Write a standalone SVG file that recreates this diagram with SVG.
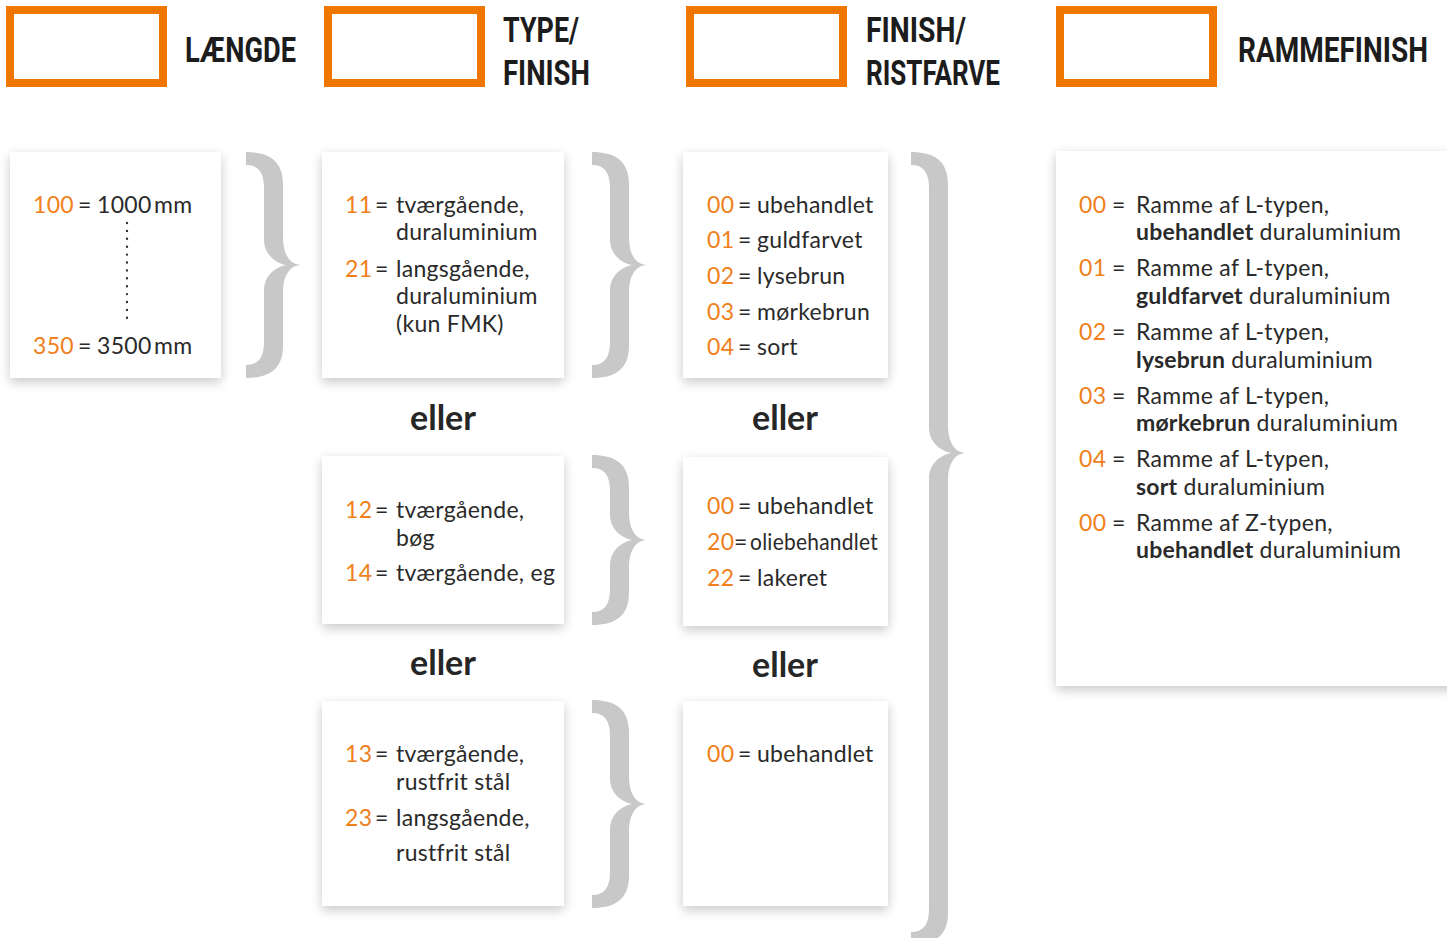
<svg xmlns="http://www.w3.org/2000/svg" width="1447" height="938" viewBox="0 0 1447 938">
<defs>
<filter id="sh" x="-20%" y="-20%" width="140%" height="140%">
<feGaussianBlur in="SourceAlpha" stdDeviation="6"/>
<feOffset dx="0" dy="4" result="b"/>
<feComponentTransfer><feFuncA type="linear" slope="0.22"/></feComponentTransfer>
<feMerge><feMergeNode/><feMergeNode in="SourceGraphic"/></feMerge>
</filter>
<style>
.hb{fill:none;stroke:#ef7600;stroke-width:8}
.ht{font-family:"Liberation Sans Narrow","Roboto","DejaVu Sans Condensed",sans-serif;font-weight:bold;font-size:35px;fill:#1c1c1c}
.card{fill:#fff;filter:url(#sh)}
.t{font-family:Lato,"Open Sans",sans-serif;font-size:23px;font-weight:400;letter-spacing:0.3px;fill:#2a2a2a}
.n{fill:#f07f1c}
.b{font-weight:bold;letter-spacing:0.2px}
.el{font-family:Lato,"Open Sans",sans-serif;font-size:34px;font-weight:bold;fill:#262626;text-anchor:middle}
.br{fill:#c8c8c8}
</style>
</defs>
<rect width="1447" height="938" fill="#fff"/>

<g id="header-laengde">
<rect class="hb" x="10" y="10" width="153" height="73"/>
<text class="ht" x="185" y="62" textLength="111" lengthAdjust="spacingAndGlyphs">LÆNGDE</text>
</g>
<g id="header-type">
<rect class="hb" x="328" y="10" width="153" height="73"/>
<text class="ht" x="503" y="42" textLength="76" lengthAdjust="spacingAndGlyphs">TYPE/</text>
<text class="ht" x="503" y="85" textLength="87" lengthAdjust="spacingAndGlyphs">FINISH</text>
</g>
<g id="header-finish">
<rect class="hb" x="690" y="10" width="153" height="73"/>
<text class="ht" x="866" y="42" textLength="100" lengthAdjust="spacingAndGlyphs">FINISH/</text>
<text class="ht" x="866" y="85" textLength="134" lengthAdjust="spacingAndGlyphs">RISTFARVE</text>
</g>
<g id="header-ramme">
<rect class="hb" x="1060" y="10" width="153" height="73"/>
<text class="ht" transform="translate(1238,62) scale(0.8,1)" x="0" y="0" textLength="237.5" lengthAdjust="spacingAndGlyphs">RAMMEFINISH</text>
</g>

<g id="connectors">
<path class="br" d="M246,152 C268,152 283,160 283,184 L283,237 C283,255 290,265 302,265 C290,265 283,275 283,293 L283,346 C283,370 268,378 246,378 L246,365 C258,365 264,358 264,342 L264,291 C264,275 276,267 286,265 C276,263 264,255 264,239 L264,188 C264,172 258,165 246,165 Z"/>
<path class="br" d="M592,152 C614,152 629,160 629,184 L629,237 C629,255 636,265 648,265 C636,265 629,275 629,293 L629,346 C629,370 614,378 592,378 L592,365 C604,365 610,358 610,342 L610,291 C610,275 622,267 632,265 C622,263 610,255 610,239 L610,188 C610,172 604,165 592,165 Z"/>
<path class="br" d="M592,455 C614,455 629,463 629,487 L629,512 C629,530 636,540 648,540 C636,540 629,550 629,568 L629,593 C629,617 614,625 592,625 L592,612 C604,612 610,605 610,589 L610,566 C610,550 622,542 632,540 C622,538 610,530 610,514 L610,491 C610,475 604,468 592,468 Z"/>
<path class="br" d="M592,700 C614,700 629,708 629,732 L629,776 C629,794 636,804 648,804 C636,804 629,814 629,832 L629,876 C629,900 614,908 592,908 L592,895 C604,895 610,888 610,872 L610,830 C610,814 622,806 632,804 C622,802 610,794 610,778 L610,736 C610,720 604,713 592,713 Z"/>
<path class="br" d="M911,152 C933,152 948,160 948,184 L948,425 C948,443 955,453 967,453 C955,453 948,463 948,481 L948,913 C948,937 933,945 911,945 L911,932 C923,932 929,925 929,909 L929,479 C929,463 941,455 951,453 C941,451 929,443 929,427 L929,188 C929,172 923,165 911,165 Z"/>
</g>

<g id="card-laengde">
<rect class="card" x="10" y="152" width="211" height="226"/>
<text class="t" y="213"><tspan class="n" x="33">100</tspan><tspan x="78">=</tspan><tspan x="97">1000</tspan><tspan x="154">mm</tspan></text>
<line x1="127" y1="223" x2="127" y2="318" stroke="#333" stroke-width="2.4" stroke-linecap="round" stroke-dasharray="0 7.9"/>
<text class="t" y="354"><tspan class="n" x="33">350</tspan><tspan x="78">=</tspan><tspan x="97">3500</tspan><tspan x="154">mm</tspan></text>
</g>

<g id="card-type-1">
<rect class="card" x="322" y="152" width="242" height="226"/>
<text class="t" y="213"><tspan class="n" x="345">11</tspan><tspan x="375">=</tspan><tspan x="396">tværgående,</tspan></text>
<text class="t" x="396" y="240">duraluminium</text>
<text class="t" y="277"><tspan class="n" x="345">21</tspan><tspan x="375">=</tspan><tspan x="396">langsgående,</tspan></text>
<text class="t" x="396" y="304">duraluminium</text>
<text class="t" x="396" y="332">(kun FMK)</text>
</g>

<g id="card-finish-1">
<rect class="card" x="683" y="152" width="205" height="226"/>
<text class="t" y="213"><tspan class="n" x="707">00</tspan><tspan x="738">=</tspan><tspan x="757">ubehandlet</tspan></text>
<text class="t" y="248"><tspan class="n" x="707">01</tspan><tspan x="738">=</tspan><tspan x="757">guldfarvet</tspan></text>
<text class="t" y="284"><tspan class="n" x="707">02</tspan><tspan x="738">=</tspan><tspan x="757">lysebrun</tspan></text>
<text class="t" y="320"><tspan class="n" x="707">03</tspan><tspan x="738">=</tspan><tspan x="757">mørkebrun</tspan></text>
<text class="t" y="355"><tspan class="n" x="707">04</tspan><tspan x="738">=</tspan><tspan x="757">sort</tspan></text>
</g>

<g id="eller-1"><text class="el" x="443" y="430">eller</text></g>
<g id="eller-2"><text class="el" x="785" y="430">eller</text></g>

<g id="card-type-2">
<rect class="card" x="322" y="456" width="242" height="168"/>
<text class="t" y="518"><tspan class="n" x="345">12</tspan><tspan x="375">=</tspan><tspan x="396">tværgående,</tspan></text>
<text class="t" x="396" y="546">bøg</text>
<text class="t" y="581"><tspan class="n" x="345">14</tspan><tspan x="375">=</tspan><tspan x="396">tværgående, eg</tspan></text>
</g>

<g id="card-finish-2">
<rect class="card" x="683" y="457" width="205" height="169"/>
<text class="t" y="514"><tspan class="n" x="707">00</tspan><tspan x="738">=</tspan><tspan x="757">ubehandlet</tspan></text>
<text class="t" y="550"><tspan class="n" x="707">20</tspan><tspan x="734">=</tspan><tspan x="750" textLength="128" lengthAdjust="spacingAndGlyphs">oliebehandlet</tspan></text>
<text class="t" y="586"><tspan class="n" x="707">22</tspan><tspan x="738">=</tspan><tspan x="757">lakeret</tspan></text>
</g>

<g id="eller-3"><text class="el" x="443" y="675">eller</text></g>
<g id="eller-4"><text class="el" x="785" y="677">eller</text></g>

<g id="card-type-3">
<rect class="card" x="322" y="701" width="242" height="205"/>
<text class="t" y="762"><tspan class="n" x="345">13</tspan><tspan x="375">=</tspan><tspan x="396">tværgående,</tspan></text>
<text class="t" x="396" y="790">rustfrit stål</text>
<text class="t" y="826"><tspan class="n" x="345">23</tspan><tspan x="375">=</tspan><tspan x="396">langsgående,</tspan></text>
<text class="t" x="396" y="861">rustfrit stål</text>
</g>

<g id="card-finish-3">
<rect class="card" x="683" y="701" width="205" height="205"/>
<text class="t" y="762"><tspan class="n" x="707">00</tspan><tspan x="738">=</tspan><tspan x="757">ubehandlet</tspan></text>
</g>

<g id="card-ramme">
<rect class="card" x="1056" y="151" width="400" height="535"/>
<text class="t" y="213"><tspan class="n" x="1079">00</tspan><tspan x="1112">=</tspan><tspan x="1136">Ramme af L-typen,</tspan></text>
<text class="t" y="240"><tspan class="b" x="1136">ubehandlet</tspan> duraluminium</text>
<text class="t" y="276"><tspan class="n" x="1079">01</tspan><tspan x="1112">=</tspan><tspan x="1136">Ramme af L-typen,</tspan></text>
<text class="t" y="304"><tspan class="b" x="1136">guldfarvet</tspan> duraluminium</text>
<text class="t" y="340"><tspan class="n" x="1079">02</tspan><tspan x="1112">=</tspan><tspan x="1136">Ramme af L-typen,</tspan></text>
<text class="t" y="368"><tspan class="b" x="1136">lysebrun</tspan> duraluminium</text>
<text class="t" y="404"><tspan class="n" x="1079">03</tspan><tspan x="1112">=</tspan><tspan x="1136">Ramme af L-typen,</tspan></text>
<text class="t" y="431"><tspan class="b" x="1136">mørkebrun</tspan> duraluminium</text>
<text class="t" y="467"><tspan class="n" x="1079">04</tspan><tspan x="1112">=</tspan><tspan x="1136">Ramme af L-typen,</tspan></text>
<text class="t" y="495"><tspan class="b" x="1136">sort</tspan> duraluminium</text>
<text class="t" y="531"><tspan class="n" x="1079">00</tspan><tspan x="1112">=</tspan><tspan x="1136">Ramme af Z-typen,</tspan></text>
<text class="t" y="558"><tspan class="b" x="1136">ubehandlet</tspan> duraluminium</text>
</g>
</svg>
